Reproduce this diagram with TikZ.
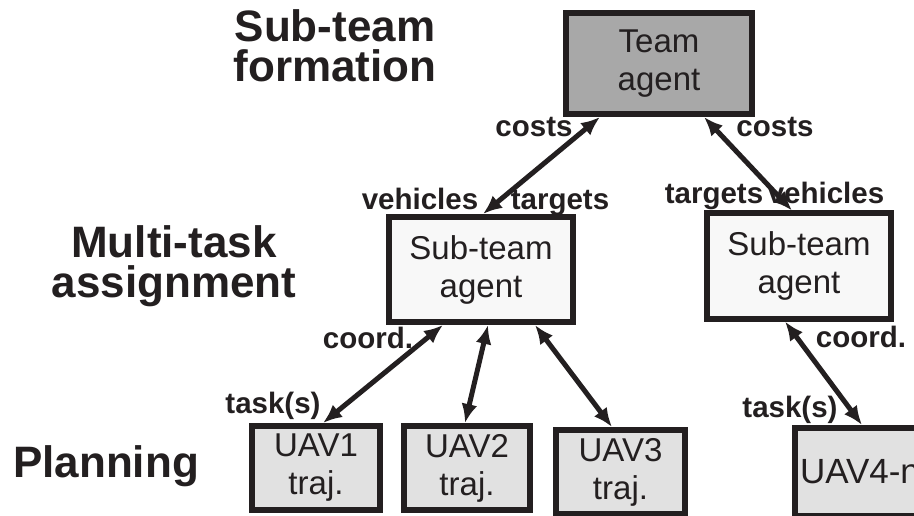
\documentclass[tikz,border=0pt]{standalone}
\usepackage{fontspec}
\setmainfont{Liberation Sans}
\usetikzlibrary{arrows.meta}

\definecolor{ink}{HTML}{231F20}
\definecolor{teamgrey}{HTML}{A8A8A8}
\definecolor{subfill}{HTML}{F8F8F8}
\definecolor{uavfill}{HTML}{E1E1E1}

\begin{document}
\begin{tikzpicture}[x=1pt,y=-1pt,
  box/.style={draw=ink, line width=6pt, inner sep=0pt, align=center, text=ink,
    font=\fontsize{33}{38}\selectfont},
  teambox/.style={box, fill=teamgrey, minimum width=186pt, minimum height=101pt},
  subbox/.style={box, fill=subfill, minimum width=184pt, minimum height=105pt},
  uavbox/.style={box, fill=uavfill, minimum height=84pt},
  lbl/.style={text=ink, font=\bfseries\fontsize{29.5}{30}\selectfont, inner sep=0pt, anchor=base},
  head/.style={text=ink, font=\bfseries\fontsize{44}{40}\selectfont, align=center, inner sep=0pt},
  link/.style={draw=ink, line width=5pt,
    {Latex[length=19pt,width=16pt]}-{Latex[length=19pt,width=16pt]}}
]
\useasboundingbox (0,0) rectangle (914,516);
\clip (0,0) rectangle (914,516);

% level headings
\node[head] (hform) at (335,46) {Sub-team\\formation};
\node[head] (hassign) at (174,266.5) {Multi-task\\assignment};
\node[head, anchor=base] (hplan) at (106,477) {Planning};

% agents
\node[teambox] (team) at (659,63.5) {Team\\agent};
\node[subbox] (subL) at (481,269.5) {Sub-team\\agent};
\node[subbox] (subR) at (799,266) {Sub-team\\agent};

% vehicle trajectory planners
\node[uavbox, minimum width=128pt] (uav1) at (316,468) {UAV1\\traj.};
\node[uavbox, minimum width=126pt] (uav2) at (467,468) {UAV2\\traj.};
\node[uavbox, minimum width=129pt] (uav3) at (620.5,472) {UAV3\\traj.};
\node[box, fill=uavfill, minimum height=88pt, text width=164pt, inner xsep=5pt, align=left,
  font=\fontsize{35}{38}\selectfont] (uav4) at (882,472) {UAV4-n};

% links between levels
\draw[link] ([xshift=37pt]team.south west) -- ([xshift=97pt]subL.north west);
\draw[link] ([xshift=141pt]team.south west) -- ([xshift=88pt]subR.north west);
\draw[link] ([xshift=57pt]subL.south west) -- ([xshift=74pt]uav1.north west);
\draw[link] ([xshift=102pt]subL.south west) -- ([xshift=64pt]uav2.north west);
\draw[link] ([xshift=149pt]subL.south west) -- ([xshift=59pt]uav3.north west);
\draw[link] ([xshift=81pt]subR.south west) -- ([xshift=70pt]uav4.north west);

% link labels
\node[lbl] (lcostL) at (534,137) {costs};
\node[lbl] (lcostR) at (775,137) {costs};
\node[lbl] (lvehL) at (420,210) {vehicles};
\node[lbl] (ltarL) at (560,210) {targets};
\node[lbl] (ltarR) at (714,204) {targets};
\node[lbl] (lvehR) at (826,204) {vehicles};
\node[lbl] (lcoordL) at (368,348) {coord.};
\node[lbl] (ltaskL) at (273,413) {task(s)};
\node[lbl] (lcoordR) at (861,347) {coord.};
\node[lbl] (ltaskR) at (790,417) {task(s)};
\end{tikzpicture}
\end{document}
